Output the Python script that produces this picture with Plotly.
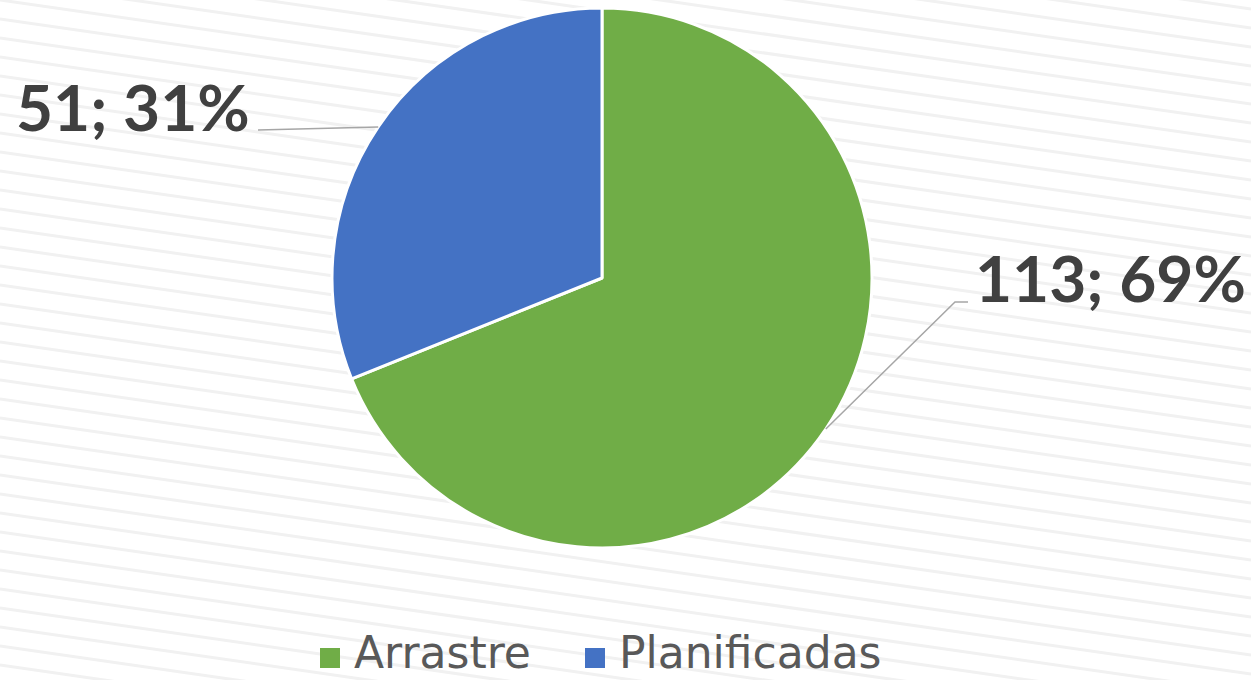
import math
import plotly.graph_objects as go

# ---- data ----
categories = ["Arrastre", "Planificadas"]
values = [113, 51]
colors = ["#70AD47", "#4472C4"]

# ---- layout constants (pixels) ----
W, H = 1251, 680
CX, CY, R = 602, 278, 270
LABEL_FONT = "Lato"
LEGEND_FONT = "DejaVu Sans"

def px(x):
    return x / W

def py(y):
    return 1 - y / H

total = sum(values)
labels_txt = [f"{v}; {round(v / total * 100)}%" for v in values]

fig = go.Figure(go.Pie(
    labels=categories,
    values=values,
    sort=False,
    direction="clockwise",
    rotation=0,
    marker=dict(colors=colors, line=dict(color="white", width=3)),
    textinfo="none",
    hoverinfo="label+value+percent",
    showlegend=False,
    domain=dict(x=[px(CX - R), px(CX + R)], y=[py(CY + R), py(CY - R)]),
))

# background stripes (decoration)
shapes = []
for i in range(-12, 48):
    y0 = i * 19
    shapes.append(dict(type="line", xref="paper", yref="paper", layer="below",
                       x0=0, x1=1, y0=py(y0), y1=py(y0 + 180),
                       line=dict(color="#f1f1f1", width=3)))

# leader lines computed from slice mid-angles
label_ends = {"Planificadas": [(258, 130)], "Arrastre": [(955, 302), (968, 302)]}
annots = {"Planificadas": dict(x=252, y=106, xanchor="right"),
          "Arrastre": dict(x=973, y=277, xanchor="left")}
cum = 0
for cat, v, t in zip(categories, values, labels_txt):
    mid = (cum + v / 2) / total * 2 * math.pi
    cum += v
    ex = CX + R * math.sin(mid)
    ey = CY - R * math.cos(mid)
    pts = [(ex, ey)] + label_ends[cat]
    path = "M " + " L ".join(f"{px(a)},{py(b)}" for a, b in pts)
    shapes.append(dict(type="path", xref="paper", yref="paper", path=path,
                       line=dict(color="#A6A6A6", width=1.5)))
    a = annots[cat]
    fig.add_annotation(x=px(a["x"]), y=py(a["y"]), xref="paper", yref="paper",
                       xanchor=a["xanchor"], yanchor="middle", showarrow=False,
                       text=f"<b>{t}</b>",
                       font=dict(family=LABEL_FONT, size=64, color="#404040"))

# manual legend (square swatches + text)
legend_x = {"Arrastre": 320, "Planificadas": 585}
LEG_Y, SW = 658, 20
for cat, col in zip(categories, colors):
    x0 = legend_x[cat]
    shapes.append(dict(type="rect", xref="paper", yref="paper",
                       x0=px(x0), x1=px(x0 + SW), y0=py(LEG_Y + SW / 2), y1=py(LEG_Y - SW / 2),
                       fillcolor=col, line=dict(width=0)))
    fig.add_annotation(x=px(x0 + SW + 12), y=0, xref="paper", yref="paper",
                       xanchor="left", yanchor="bottom", showarrow=False, text=cat,
                       font=dict(family=LEGEND_FONT, size=44, color="#595959"))

fig.update_layout(
    width=W, height=H,
    margin=dict(l=0, r=0, t=0, b=0),
    paper_bgcolor="white",
    plot_bgcolor="white",
    shapes=shapes,
    showlegend=False,
)

fig.write_html("out.html", config={"displayModeBar": False},
               post_script="document.body.style.margin='0';")
